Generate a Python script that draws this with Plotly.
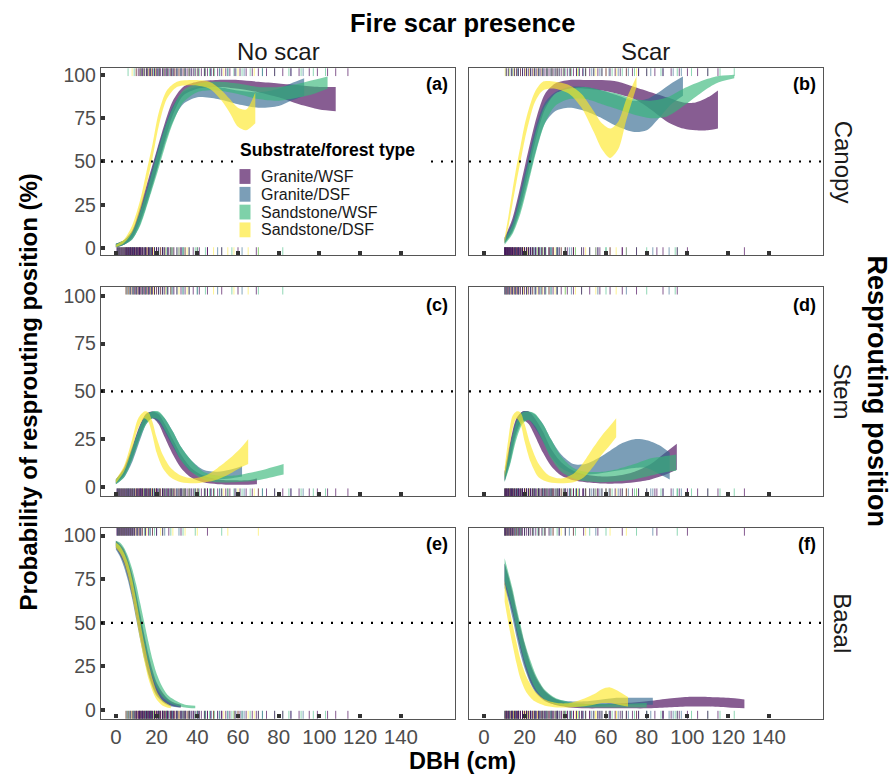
import plotly.graph_objects as go

W, H = 893, 777
GROUPS = ["Granite/WSF", "Granite/DSF", "Sandstone/WSF", "Sandstone/DSF"]
BASE_RGB = ["68,1,84", "49,104,142", "53,183,121", "253,231,37"]
FILL_ALPHA = 0.64
RUG_ALPHA = [0.65, 0.6, 0.55, 0.5]

X_TICKS = [0, 20, 40, 60, 80, 100, 120, 140]
Y_TICKS = [0, 25, 50, 75, 100]
COL_TITLES = ["No scar", "Scar"]
ROW_TITLES = ["Canopy", "Stem", "Basal"]
PANEL_TAGS = ["(a)", "(b)", "(c)", "(d)", "(e)", "(f)"]

# ---------------- ribbons: (a) No scar / Canopy ----------------
A_GW_X = [0, 4, 8, 12, 16, 20, 24, 28, 33, 40, 50, 60, 70, 80, 90, 100, 108]
A_GW_LO = [0.5, 2, 6, 16, 30, 45, 62, 77, 88, 92, 93, 92, 90, 87, 83, 80, 79]
A_GW_HI = [2.5, 4.5, 10, 24, 40, 56, 72, 85, 93, 96, 97, 97, 96, 95, 94, 93, 93]
A_GD_X = [0, 4, 8, 12, 16, 20, 24, 28, 33, 40, 50, 60, 70, 80, 86, 92.5]
A_GD_LO = [0.5, 2, 5, 14, 28, 44, 60, 73, 83, 87, 86, 83, 81, 82, 85, 88]
A_GD_HI = [2.5, 4.5, 10, 22, 38, 55, 70, 82, 90, 93, 93, 91, 90, 92, 95, 98]
A_SW_X = [0, 4, 8, 12, 16, 20, 24, 28, 33, 40, 50, 60, 70, 80, 90, 97, 104]
A_SW_LO = [0.5, 2, 5, 13, 27, 42, 58, 72, 84, 90, 91, 89, 86, 85, 87, 89, 92]
A_SW_HI = [2.5, 4.5, 9, 21, 36, 53, 69, 81, 91, 95, 96, 95, 93, 93, 95, 97, 99]
A_SD_X = [0, 4, 8, 12, 15, 18, 21, 25, 30, 38, 46, 52, 56, 60, 64, 68.5]
A_SD_LO = [0.5, 3, 9, 22, 36, 52, 70, 86, 93, 94, 92, 85, 78, 70, 68, 72]
A_SD_HI = [2, 5, 13, 28, 44, 60, 78, 91, 96, 97, 96, 91, 86, 81, 80, 90]

# ---------------- (b) Scar / Canopy ----------------
B_GW_X = [10.2, 14, 18, 22, 26, 30, 35, 42, 50, 58, 66, 74, 82, 90, 98, 104, 110, 115]
B_GW_LO = [3, 10, 25, 45, 65, 80, 89, 92, 92, 91, 89, 86, 80, 73, 69, 68, 68, 69]
B_GW_HI = [6, 17, 36, 57, 76, 89, 95, 97, 97, 97, 96, 93, 90, 87, 84, 84, 87, 91]
B_GD_X = [10.2, 14, 18, 22, 26, 30, 35, 42, 50, 58, 66, 74, 80, 86, 92, 97.8]
B_GD_LO = [3, 9, 22, 40, 58, 72, 79, 81, 79, 75, 70, 67, 68, 75, 83, 88]
B_GD_HI = [6, 15, 33, 53, 72, 84, 90, 93, 93, 91, 88, 85, 86, 90, 95, 99]
B_SW_X = [10.2, 14, 18, 22, 26, 30, 35, 42, 50, 58, 66, 74, 82, 90, 98, 106, 114, 123]
B_SW_LO = [2, 8, 20, 38, 57, 72, 82, 86, 86, 83, 80, 77, 75, 76, 82, 89, 95, 98]
B_SW_HI = [5, 13, 30, 50, 69, 82, 89, 92, 93, 91, 89, 86, 85, 87, 92, 96, 99, 100]
B_SD_X = [10.2, 12, 14, 16, 18, 20, 22, 25, 29, 35, 42, 48, 54, 58, 62, 66, 70, 75]
B_SD_LO = [3, 12, 25, 38, 50, 62, 72, 84, 91, 92, 89, 81, 67, 57, 52, 57, 74, 93]
B_SD_HI = [6, 18, 33, 47, 59, 71, 80, 90, 96, 96, 94, 89, 79, 72, 69, 73, 86, 99]

# ---------------- (c) No scar / Stem ----------------
C_GW_X = [0, 4, 8, 12, 15, 18, 21, 24, 28, 32, 37, 43, 50, 58, 64, 69.3]
C_GW_LO = [2, 6, 15, 27, 34, 36, 33, 26, 17, 10, 5, 2.5, 1.5, 1.2, 1.2, 1.5]
C_GW_HI = [4, 10, 21, 33, 38.5, 39.5, 38, 33, 25, 17, 10, 6, 4, 3.5, 3.5, 4.5]
C_GD_X = [0, 4, 8, 12, 15, 18, 21, 24, 28, 32, 37, 43, 50, 56, 62]
C_GD_LO = [1.5, 5, 13, 25, 33, 36, 34, 29, 21, 14, 8, 5, 4, 4.5, 5.5]
C_GD_HI = [4, 9, 20, 32, 38, 39.5, 39, 36, 29, 21, 14, 9, 8, 9, 11]
C_SW_X = [0, 4, 8, 12, 15, 18, 21, 24, 28, 32, 37, 43, 50, 58, 66, 74, 82.4]
C_SW_LO = [1.5, 5, 14, 26, 33, 36, 35, 30, 22, 14, 8, 4, 2.5, 2.5, 3, 4.5, 6.5]
C_SW_HI = [4, 9, 20, 32, 38, 39.5, 39.5, 36, 29, 21, 14, 8, 6, 6, 7.5, 9.5, 12]
C_SD_X = [0, 4, 8, 11, 14, 16, 18, 20, 23, 27, 32, 38, 44, 50, 56, 61, 65]
C_SD_LO = [2, 8, 20, 31, 36, 34, 27, 18, 10, 5, 2.5, 2, 2.5, 4, 7, 10, 12]
C_SD_HI = [4, 11, 25, 36, 39.5, 39, 34, 26, 17, 10, 6, 4.5, 6, 10, 15, 20, 25]

# ---------------- (d) Scar / Stem ----------------
D_GW_X = [10.2, 13, 16, 19, 22, 25, 29, 33, 38, 44, 50, 58, 66, 74, 82, 88, 94.8]
D_GW_LO = [3, 15, 29, 35, 33, 27, 18, 11, 6, 3.5, 2.5, 1.8, 1.8, 2.5, 4, 6, 9]
D_GW_HI = [8, 24, 36, 39.5, 39.5, 36, 29, 20, 13, 8.5, 6.5, 5.5, 6, 8, 12, 17, 22.6]
D_GD_X = [10.2, 13, 16, 19, 22, 25, 29, 33, 38, 44, 50, 56, 62, 68, 74, 80, 86, 91.3]
D_GD_LO = [3, 13, 27, 34, 35, 31, 24, 16, 10, 7, 6.5, 7, 8, 9, 10, 10, 7, 4]
D_GD_HI = [8, 22, 35, 39.5, 39.5, 38, 33, 25, 17, 12, 12, 15, 19, 23, 25, 24.5, 22, 18]
D_SW_X = [10.2, 13, 16, 19, 22, 25, 29, 33, 38, 44, 50, 58, 66, 74, 82, 88, 94.5]
D_SW_LO = [2.5, 12, 25, 33, 35, 32, 24, 15, 8, 4.5, 3, 2.5, 3, 4, 6, 7.5, 8.5]
D_SW_HI = [7, 21, 34, 39, 39.5, 38.5, 33, 25, 16, 10, 8, 8, 9.5, 12, 15, 16, 17]
D_SD_X = [10.2, 12, 14, 16, 18, 20, 23, 27, 32, 38, 44, 49, 54, 58, 62, 65]
D_SD_LO = [5, 16, 30, 36, 33, 24, 13, 5, 2.5, 2, 2.5, 5, 11, 17, 22, 26]
D_SD_HI = [10, 25, 37, 39.5, 39, 33, 22, 12, 6, 4.5, 7, 13, 21, 27, 32, 36]

# ---------------- (e) No scar / Basal ----------------
E_GW_X = [0, 2, 4, 6, 8, 10, 12, 14, 16, 18, 20, 23, 26, 29, 32]
E_GW_LO = [93, 89, 84, 76, 66, 54, 42, 31, 21, 14, 9, 5, 3, 2, 1.5]
E_GW_HI = [97, 95, 92, 86, 78, 67, 55, 43, 32, 23, 16, 10, 6, 4, 3]
E_GD_X = [0, 2, 4, 6, 8, 10, 12, 14, 16, 18, 20, 23, 26, 29, 31.6]
E_GD_LO = [92, 88, 82, 74, 64, 52, 40, 29, 20, 13, 8, 4.5, 2.5, 1.8, 1.5]
E_GD_HI = [96, 94, 90, 84, 76, 65, 53, 41, 30, 21, 15, 9, 5.5, 3.5, 2.8]
E_SW_X = [0, 2, 4, 6, 8, 10, 12, 14, 16, 18, 20, 23, 26, 30, 34, 39]
E_SW_LO = [94, 91, 87, 80, 71, 60, 48, 37, 27, 19, 13, 7.5, 4.5, 2.5, 1.5, 1]
E_SW_HI = [97, 96, 93, 88, 81, 72, 61, 50, 39, 29, 21, 13, 8, 5, 3, 2.5]
E_SD_X = [0, 2, 4, 6, 8, 10, 12, 14, 16, 18, 20, 23, 27]
E_SD_LO = [93, 90, 85, 77, 66, 53, 40, 28, 18, 11, 6, 2.5, 1]
E_SD_HI = [96, 94, 90, 84, 75, 63, 50, 38, 27, 18, 11, 5.5, 2.5]

# ---------------- (f) Scar / Basal ----------------
F_GW_X = [10.2, 12, 14, 16, 18, 20, 23, 26, 30, 35, 42, 50, 60, 70, 80, 90, 100, 110, 120, 128]
F_GW_LO = [72, 65, 56, 45, 35, 26, 16, 10, 5.5, 3, 1.5, 1, 1, 1, 1, 1.5, 2, 2, 1.5, 1]
F_GW_HI = [84, 77, 68, 57, 47, 38, 26, 18, 11, 6.5, 4, 3.5, 3.5, 4, 5, 6.5, 7.5, 7.5, 7, 6]
F_GD_X = [10.2, 12, 14, 16, 18, 20, 23, 26, 30, 35, 42, 50, 58, 66, 74, 83]
F_GD_LO = [70, 63, 53, 42, 32, 24, 15, 9, 5, 3, 2, 2, 2.5, 3, 3, 3]
F_GD_HI = [84, 76, 66, 55, 45, 36, 25, 17, 10.5, 6.5, 5, 5, 6, 7, 7, 7]
F_SW_X = [10.2, 12, 14, 16, 18, 20, 23, 26, 30, 35, 42, 50, 60, 70, 80]
F_SW_LO = [74, 67, 58, 47, 37, 28, 18, 11, 6, 3.5, 2, 1.5, 1.5, 1.5, 1.5]
F_SW_HI = [87, 79, 70, 59, 49, 39, 28, 19, 11.5, 7, 4.5, 3.5, 3.5, 3.5, 4]
F_SD_X = [10.2, 12, 14, 16, 18, 21, 25, 30, 36, 42, 48, 54, 58, 62, 66, 70.8]
F_SD_LO = [62, 50, 38, 27, 18, 10, 5, 2.5, 1.5, 1.5, 2, 3, 4, 4, 3, 2]
F_SD_HI = [74, 62, 50, 39, 29, 19, 11, 6, 4, 4, 6, 9, 12, 13, 11, 7.5]

# ---------------- rug: observed DBH by response position ----------------
NS_CAN_GW = [10, 11, 11.8, 12.5, 13.2, 14, 15, 15.7, 16.5, 17.2, 18, 19, 19.8, 20.5, 21.3, 22, 23, 23.8,
             24.5, 25.3, 26, 27, 27.5, 28.4, 29, 30, 31, 32, 33, 34, 35, 36, 37, 38, 39, 40.5, 42, 43.5,
             45, 46.5, 48, 50, 52, 54, 56, 58.5, 61, 64, 67, 70, 74, 78, 82, 86, 90, 95, 99, 104, 108, 114]
NS_CAN_GD = [13, 15, 17, 19, 21, 23, 25, 27.5, 30, 32, 34, 37, 40, 44, 47, 51, 55, 59, 63, 72, 86, 92]
NS_CAN_SW = [6, 9, 12, 13.8, 15.5, 17, 18.5, 20, 21.5, 23.2, 25, 26.5, 28, 30, 32, 34, 36, 38.5, 41, 43.5,
             46, 48.5, 51, 55, 58, 62, 66, 72, 78, 85, 91, 97, 103]
NS_CAN_SD = [8, 10, 12, 13.5, 15, 16, 17.5, 19.5, 21.5, 23.5, 25, 27, 29, 31, 33.5, 36, 40, 44, 48, 53, 60, 68]
NS_STEM_GW = [5, 6, 7, 8, 9, 9.5, 10.3, 11, 11.6, 12, 12.8, 13.5, 14.2, 15, 15.8, 16.5, 17.3, 18, 19, 20,
              21, 22, 23, 24, 25.5, 27, 28.5, 30, 32, 34, 36, 38, 41, 45, 52, 60, 69]
NS_STEM_GD = [7, 8.5, 10, 11.5, 13, 14.5, 16, 17.5, 19, 21, 23, 25.5, 28, 33, 40, 50, 62]
NS_STEM_SW = [5.5, 7, 8.5, 10, 11.5, 13, 14.5, 16, 17.5, 19, 21, 23, 25, 27.5, 30, 33, 36, 40, 44, 57, 70, 82]
NS_STEM_SD = [5, 6.2, 7.5, 9, 10.5, 11.8, 13, 14.2, 15.5, 17, 18.5, 20, 22, 24.5, 27, 31, 35, 48, 58, 65]
NS_BAS_GW = [0.5, 1, 1.5, 2, 2.5, 3, 3.5, 4, 4.5, 5, 5.5, 6, 6.5, 7, 7.5, 8, 8.5, 9.2, 10, 10.8, 11.5,
             12.3, 13, 14.5, 16, 18, 20, 23, 26, 32, 45]
NS_BAS_GD = [1, 2, 3, 4, 5, 6, 7, 8, 9, 10.5, 12, 14.5, 17, 20, 24, 31]
NS_BAS_SW = [0.8, 1.4, 2, 3, 4, 5, 6, 7, 8, 9, 10.5, 12, 14, 16.5, 19, 23, 27, 33, 39, 52]
NS_BAS_SD = [1.2, 2, 2.8, 3.5, 4.2, 5.2, 6.2, 7.2, 8.2, 9.5, 11, 13, 15, 18, 22, 28, 34, 40, 55, 70]
SC_CAN_GW = [11, 12, 13.5, 15, 16, 17, 18, 19, 20, 21, 22, 23, 24, 25, 26, 27, 28, 29, 30, 31, 32, 33,
             34, 35, 36, 37, 38, 39.5, 41, 42.5, 44, 45.5, 47, 48.5, 50, 52, 54, 56, 58, 60, 62, 64.5,
             67, 70, 73, 76, 80, 84, 88, 92, 96, 100, 105, 110, 115]
SC_CAN_GD = [14, 16.5, 19, 21, 23, 25, 27, 29, 31, 33.5, 36, 39, 42, 45.5, 49, 53, 57, 61.5, 66, 71,
             76, 82, 88, 93, 97]
SC_CAN_SW = [11, 12.3, 13.5, 15, 17, 19, 21, 23, 25, 27, 29, 31, 33, 35, 37, 40, 43, 46.5, 50, 54, 58,
             63, 68, 74, 80, 87, 95, 102, 110, 116, 123]
SC_CAN_SD = [10.5, 12.5, 14.5, 16, 18, 20.5, 22.5, 24.5, 26.5, 28.5, 31, 33.5, 36, 39, 42.5, 46, 50,
             55, 60, 65, 70, 75]
SC_STEM_GW = [10.3, 10.8, 11.5, 12, 12.8, 13.5, 14.2, 15, 15.8, 16.5, 17.2, 18, 19, 20, 21, 22, 23, 24,
              25.5, 27, 28.5, 30, 32, 34, 36, 38, 41, 44, 48, 52, 57, 62, 68, 75, 88, 95]
SC_STEM_GD = [11, 12.5, 14, 15.5, 17, 19, 21, 23, 25, 27.5, 30, 33, 36, 43, 56, 70, 91]
SC_STEM_SW = [10.2, 11.3, 12.5, 14, 15.5, 17, 19, 21, 23, 25.5, 28, 30.5, 33, 36, 40, 48, 60, 80, 94]
SC_STEM_SD = [10.8, 11.8, 13, 14.5, 16, 17.8, 19.5, 21.5, 24, 26.5, 29, 32, 35, 40, 45, 55, 65]
SC_BAS_GW = [10.2, 10.6, 11, 11.5, 12, 12.5, 13, 13.5, 14, 14.5, 15.2, 16, 16.8, 17.5, 18.2, 19, 20,
             21, 22, 23, 24, 25.5, 27, 28.5, 30, 32, 34, 37, 40, 44, 49, 56, 68, 85, 100, 128]
SC_BAS_GD = [10.5, 11.7, 13, 14.2, 15.5, 17, 18.5, 20, 22, 24.5, 27, 30, 33, 37, 42, 55, 83]
SC_BAS_SW = [10.2, 11, 12, 13, 14, 15.2, 16.5, 18, 20, 22, 24, 26.5, 29, 32.5, 36, 40, 45, 52, 60, 75, 95]
SC_BAS_SD = [10.4, 11.1, 11.8, 12.5, 13.2, 14, 15, 16, 17, 18.5, 20, 22, 24, 27, 30, 34, 38, 44, 50, 62, 70]

# ---------------- layout geometry ----------------
X_RANGE = [-7.3, 166.6]
X_DOMAINS = [[101 / W, 455 / W], [469 / W, 823 / W]]
ROW_PX = [(64, 253), (285, 497), (529, 722)]
Y_RANGES = [[-4.0, 103.8], [-4.8, 104.7], [-4.9, 104.4]]
FONT = "Liberation Sans, Arial, sans-serif"

ribbons = [
    [(A_GW_X, A_GW_LO, A_GW_HI), (A_GD_X, A_GD_LO, A_GD_HI), (A_SW_X, A_SW_LO, A_SW_HI), (A_SD_X, A_SD_LO, A_SD_HI)],
    [(B_GW_X, B_GW_LO, B_GW_HI), (B_GD_X, B_GD_LO, B_GD_HI), (B_SW_X, B_SW_LO, B_SW_HI), (B_SD_X, B_SD_LO, B_SD_HI)],
    [(C_GW_X, C_GW_LO, C_GW_HI), (C_GD_X, C_GD_LO, C_GD_HI), (C_SW_X, C_SW_LO, C_SW_HI), (C_SD_X, C_SD_LO, C_SD_HI)],
    [(D_GW_X, D_GW_LO, D_GW_HI), (D_GD_X, D_GD_LO, D_GD_HI), (D_SW_X, D_SW_LO, D_SW_HI), (D_SD_X, D_SD_LO, D_SD_HI)],
    [(E_GW_X, E_GW_LO, E_GW_HI), (E_GD_X, E_GD_LO, E_GD_HI), (E_SW_X, E_SW_LO, E_SW_HI), (E_SD_X, E_SD_LO, E_SD_HI)],
    [(F_GW_X, F_GW_LO, F_GW_HI), (F_GD_X, F_GD_LO, F_GD_HI), (F_SW_X, F_SW_LO, F_SW_HI), (F_SD_X, F_SD_LO, F_SD_HI)],
]
rug_by_col = [
    [[NS_CAN_GW, NS_CAN_GD, NS_CAN_SW, NS_CAN_SD],
     [NS_STEM_GW, NS_STEM_GD, NS_STEM_SW, NS_STEM_SD],
     [NS_BAS_GW, NS_BAS_GD, NS_BAS_SW, NS_BAS_SD]],
    [[SC_CAN_GW, SC_CAN_GD, SC_CAN_SW, SC_CAN_SD],
     [SC_STEM_GW, SC_STEM_GD, SC_STEM_SW, SC_STEM_SD],
     [SC_BAS_GW, SC_BAS_GD, SC_BAS_SW, SC_BAS_SD]],
]

fig = go.Figure()
layout = dict(width=W, height=H, margin=dict(l=0, r=0, t=0, b=0),
              paper_bgcolor="white", plot_bgcolor="white", showlegend=False,
              font=dict(family=FONT))
shapes, annotations = [], []

for p in range(6):
    r, c = divmod(p, 2)
    n = p + 1
    xa = "x" if n == 1 else f"x{n}"
    ya = "y" if n == 1 else f"y{n}"
    top_px, bot_px = ROW_PX[r]
    yr = Y_RANGES[r]
    k = (bot_px - top_px) / (yr[1] - yr[0])  # px per unit

    # ribbons
    for g, (xs, lo, hi) in enumerate(ribbons[p]):
        fill = f"rgba({BASE_RGB[g]},{FILL_ALPHA})"
        fig.add_trace(go.Scatter(x=xs, y=lo, xaxis=xa, yaxis=ya, mode="lines",
                                 line=dict(width=0, shape="spline", smoothing=0.8),
                                 hoverinfo="skip", showlegend=False))
        fig.add_trace(go.Scatter(x=xs, y=hi, xaxis=xa, yaxis=ya, mode="lines",
                                 line=dict(width=0, shape="spline", smoothing=0.8),
                                 fill="tonexty", fillcolor=fill, name=GROUPS[g],
                                 hoverinfo="skip", showlegend=False))

    # rugs: top = trees with this response, bottom = trees with other responses
    y_top = yr[1] - 3.3 / k
    y_bot = yr[0] + 3.3 / k
    for g in (3, 2, 1, 0):
        col = f"rgba({BASE_RGB[g]},{RUG_ALPHA[g]})"
        top_vals = rug_by_col[c][r][g]
        bot_vals = [v for rr in range(3) if rr != r for v in rug_by_col[c][rr][g]]
        for vals, yy in ((top_vals, y_top), (bot_vals, y_bot)):
            fig.add_trace(go.Scatter(x=vals, y=[yy] * len(vals), xaxis=xa, yaxis=ya,
                                     mode="markers", hoverinfo="skip", showlegend=False,
                                     marker=dict(symbol="line-ns", size=6.5,
                                                 line=dict(width=1, color=col))))

    # axes
    layout["xaxis" if n == 1 else f"xaxis{n}"] = dict(
        domain=X_DOMAINS[c], range=X_RANGE, anchor=ya, showgrid=False, zeroline=False,
        showline=True, mirror=True, linecolor="#555555", linewidth=1.3,
        ticks="inside", ticklen=4, tickwidth=3.5, tickcolor="#333333",
        tickvals=X_TICKS, showticklabels=(r == 2),
        tickfont=dict(size=20.5, color="#4d4d4d", family=FONT))
    layout["yaxis" if n == 1 else f"yaxis{n}"] = dict(
        domain=[1 - bot_px / H, 1 - top_px / H], range=yr, anchor=xa, showgrid=False,
        zeroline=False, showline=True, mirror=True, linecolor="#555555", linewidth=1.3,
        ticks="inside" if c == 0 else "", ticklen=4, tickwidth=3.5, tickcolor="#333333",
        tickvals=Y_TICKS, showticklabels=(c == 0),
        tickfont=dict(size=19.5, color="#4d4d4d", family=FONT))

    # threshold line
    shapes.append(dict(type="line", xref=f"{xa} domain", yref=ya, x0=0, x1=1, y0=50, y1=50,
                       line=dict(color="black", width=2.2, dash="2px,8px"), layer="above"))
    # panel tag
    annotations.append(dict(text=f"<b>{PANEL_TAGS[p]}</b>", xref=xa, yref=ya, x=164, y=95,
                            xanchor="right", yanchor="middle", showarrow=False,
                            font=dict(size=18, color="black", family=FONT)))

# strip labels
for c, t in enumerate(COL_TITLES):
    annotations.append(dict(text=t, xref="paper", yref="paper",
                            x=sum(X_DOMAINS[c]) / 2, y=1 - 47 / H, xanchor="center", yanchor="middle",
                            showarrow=False, font=dict(size=24, color="#1a1a1a", family=FONT)))
for r, t in enumerate(ROW_TITLES):
    cy = (ROW_PX[r][0] + ROW_PX[r][1]) / 2
    annotations.append(dict(text=t, xref="paper", yref="paper", x=843 / W, y=1 - cy / H,
                            xanchor="center", yanchor="middle", textangle=90, showarrow=False,
                            font=dict(size=24, color="#1a1a1a", family=FONT)))

# outer titles
annotations += [
    dict(text="<b>Fire scar presence</b>", xref="paper", yref="paper", x=462 / W, y=1 - 18 / H,
         xanchor="center", yanchor="middle", showarrow=False, font=dict(size=25.5, color="black", family=FONT)),
    dict(text="<b>DBH (cm)</b>", xref="paper", yref="paper", x=462 / W, y=1 - 765 / H,
         xanchor="center", yanchor="middle", showarrow=False, font=dict(size=23.5, color="black", family=FONT)),
    dict(text="<b>Probability of resprouting position (%)</b>", xref="paper", yref="paper",
         x=28 / W, y=1 - 392 / H, xanchor="center", yanchor="middle", textangle=-90, showarrow=False,
         font=dict(size=24, color="black", family=FONT)),
    dict(text="<b>Resprouting position</b>", xref="paper", yref="paper", x=877 / W, y=1 - 390 / H,
         xanchor="center", yanchor="middle", textangle=90, showarrow=False,
         font=dict(size=27, color="black", family=FONT)),
]

# legend (drawn inside panel a)
shapes.append(dict(type="rect", xref="paper", yref="paper", x0=234 / W, x1=430 / W,
                   y0=1 - 240 / H, y1=1 - 137 / H, fillcolor="white", line=dict(width=0), layer="above"))
annotations.append(dict(text="<b>Substrate/forest type</b>", xref="paper", yref="paper",
                        x=238 / W, y=1 - 147 / H, xanchor="left", yanchor="middle", showarrow=False,
                        font=dict(size=17.5, color="black", family=FONT)))
LEG_ROWS = [173.5, 191.5, 209.5, 227.5]
for g, cy in enumerate(LEG_ROWS):
    shapes.append(dict(type="rect", xref="paper", yref="paper", x0=239.5 / W, x1=250.5 / W,
                       y0=1 - (cy + 7.5) / H, y1=1 - (cy - 7.5) / H,
                       fillcolor=f"rgba({BASE_RGB[g]},{FILL_ALPHA})", line=dict(width=0), layer="above"))
    annotations.append(dict(text=GROUPS[g], xref="paper", yref="paper", x=259 / W, y=1 - cy / H,
                            xanchor="left", yanchor="middle", showarrow=False,
                            font=dict(size=16, color="#1a1a1a", family=FONT)))

layout["shapes"] = shapes
layout["annotations"] = annotations
fig.update_layout(**layout)
fig.write_html("out.html")
